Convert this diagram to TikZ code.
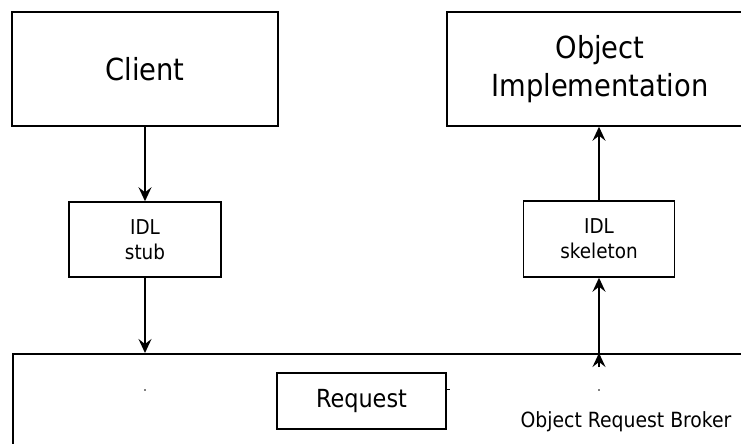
\documentclass[tikz,border=0pt]{standalone}
\usepackage{fontspec}
\setmainfont{DejaVu Sans Condensed}
\usetikzlibrary{arrows.meta,calc}
\begin{document}
\begin{tikzpicture}[x=1bp,y=-1bp,
  box/.style={draw,line width=1.5bp,inner sep=0pt,align=center},
  big/.style={font=\fontsize{30.5}{38}\selectfont},
  small/.style={font=\fontsize{20.5}{25}\selectfont},
  arr/.style={line width=1.5bp,-{Stealth[length=14bp,width=13bp,inset=5bp]}}]
\useasboundingbox (0,0) rectangle (741,444);
\clip (0,0) rectangle (741,444);

% application side
\node[box,big,minimum width=266bp,minimum height=114bp] (client) at (145,69) {Client};
\node[box,big,minimum width=306bp,minimum height=114bp] (objimpl) at (600,69) {Object\\Implementation};

% generated IDL code
\node[box,small,minimum width=152bp,minimum height=75bp] (stub) at (145,239.5) {IDL\\stub};
\node[box,small,minimum width=151bp,minimum height=76bp] (skel) at (599,239) {IDL\\skeleton};

% broker
\node[box,minimum width=800bp,minimum height=150bp,anchor=north west] (orb) at (12,353) {};
\node[box,font=\fontsize{25}{30}\selectfont,minimum width=169bp,minimum height=56bp] (request) at (361.5,401) {Request};
\node[font=\fontsize{21}{25}\selectfont] (orblabel) at (626,422) {Object Request Broker};

% request path
\draw[arr] (client.south) -- (client.south |- stub.north);
\draw[arr] (stub.south) -- (stub.south |- orb.north);
\coordinate (entry) at ($(skel.south |- orb.north)+(0,14)$);
\draw[arr] (entry) -- (skel.south |- orb.north);
\draw[arr] (skel.south |- orb.north) -- (skel.south);
\draw[arr] (skel.north) -- (skel.north |- objimpl.south);

% small marks inside the broker
\fill (145,390) circle (0.8);
\fill (599,390) circle (0.8);
\draw[line width=1bp] (request.east |- 0,389) -- ++(3,0);
\end{tikzpicture}
\end{document}
